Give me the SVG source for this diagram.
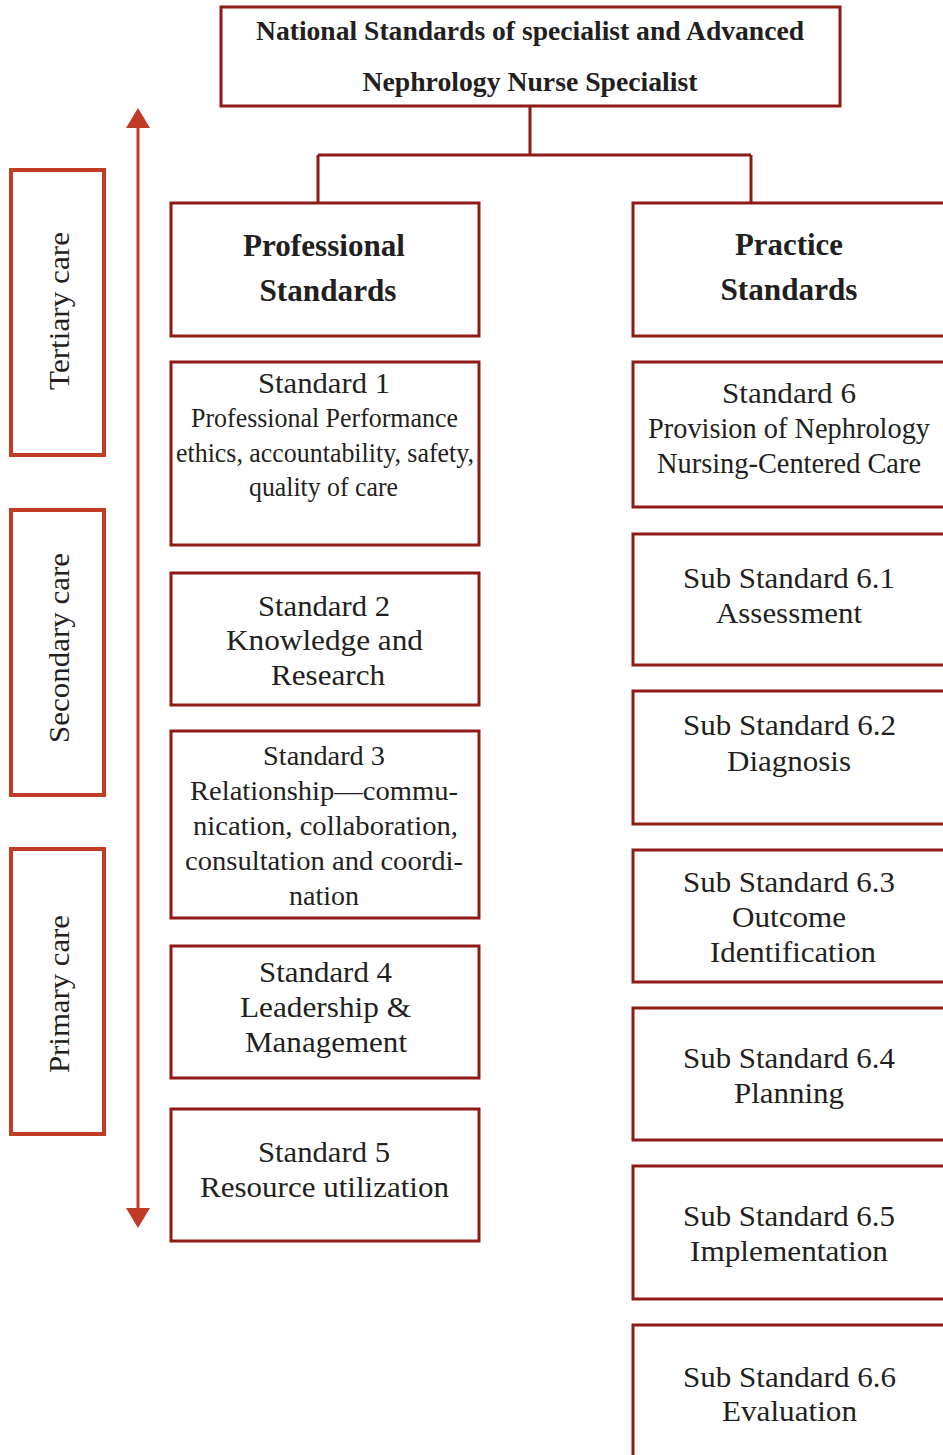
<svg xmlns="http://www.w3.org/2000/svg" width="943" height="1455" viewBox="0 0 943 1455">
<style>
.box{fill:#fff;stroke:#8e1b16;stroke-width:3}
.lvl{fill:#fff;stroke:#c23b24;stroke-width:4}
.conn{fill:none;stroke:#8e1b16;stroke-width:3}
.t{font-family:"Liberation Serif","Times New Roman",serif;font-size:30px;fill:#231f20;text-anchor:middle}
.s{font-size:28px}
.b{font-family:"Liberation Serif","Times New Roman",serif;font-weight:bold;fill:#231f20;text-anchor:middle}
</style>
<rect width="943" height="1455" fill="#fff"/>

<g id="connectors">
<path class="conn" d="M530,106 V155 M318,155 H751 M318,155 V202 M751,155 V202"/>
<line x1="138" y1="124" x2="138" y2="1212" stroke="#c23b24" stroke-width="3"/>
<path d="M138,108 L126,128 L150,128 z" fill="#c23b24"/>
<path d="M138,1228 L126,1208 L150,1208 z" fill="#c23b24"/>
</g>

<g id="levels">
<g id="tertiary"><rect class="lvl" x="11" y="170" width="93" height="285"/>
<text class="t" transform="translate(69,311) rotate(-90)" textLength="158" lengthAdjust="spacingAndGlyphs">Tertiary care</text></g>
<g id="secondary"><rect class="lvl" x="11" y="510" width="93" height="285"/>
<text class="t" transform="translate(69,648) rotate(-90)" textLength="190" lengthAdjust="spacingAndGlyphs">Secondary care</text></g>
<g id="primary"><rect class="lvl" x="11" y="849" width="93" height="285"/>
<text class="t" transform="translate(69,994) rotate(-90)" textLength="158" lengthAdjust="spacingAndGlyphs">Primary care</text></g>
</g>

<g id="root"><rect class="box" x="221" y="7" width="619" height="99"/>
<text class="b" x="530" y="40" font-size="28" textLength="548" lengthAdjust="spacingAndGlyphs">National Standards of specialist and Advanced</text>
<text class="b" x="530" y="91" font-size="28" textLength="335" lengthAdjust="spacingAndGlyphs">Nephrology Nurse Specialist</text></g>

<g id="professional"><rect class="box" x="171" y="203" width="308" height="133"/>
<text class="b" x="324" y="256" font-size="31" textLength="162" lengthAdjust="spacingAndGlyphs">Professional</text>
<text class="b" x="328" y="301" font-size="31" textLength="137" lengthAdjust="spacingAndGlyphs">Standards</text></g>

<g id="practice"><rect class="box" x="633" y="203" width="320" height="133"/>
<text class="b" x="789" y="255" font-size="31" textLength="108" lengthAdjust="spacingAndGlyphs">Practice</text>
<text class="b" x="789" y="300" font-size="31" textLength="137" lengthAdjust="spacingAndGlyphs">Standards</text></g>

<g id="std1"><rect class="box" x="171" y="362" width="308" height="183"/>
<text class="t" x="324" y="393" textLength="132" lengthAdjust="spacingAndGlyphs">Standard 1</text>
<text class="t s" x="324.5" y="427" textLength="267" lengthAdjust="spacingAndGlyphs">Professional Performance</text>
<text class="t s" x="325" y="462" textLength="298" lengthAdjust="spacingAndGlyphs">ethics, accountability, safety,</text>
<text class="t s" x="323.5" y="496" textLength="149" lengthAdjust="spacingAndGlyphs">quality of care</text></g>

<g id="std2"><rect class="box" x="171" y="573" width="308" height="132"/>
<text class="t" x="324" y="616" textLength="132" lengthAdjust="spacingAndGlyphs">Standard 2</text>
<text class="t" x="324.5" y="650" textLength="197" lengthAdjust="spacingAndGlyphs">Knowledge and</text>
<text class="t" x="328" y="685" textLength="114" lengthAdjust="spacingAndGlyphs">Research</text></g>

<g id="std3"><rect class="box" x="171" y="731" width="308" height="187"/>
<text class="t s" x="324" y="765" textLength="122" lengthAdjust="spacingAndGlyphs">Standard 3</text>
<text class="t s" x="324" y="800" textLength="268" lengthAdjust="spacingAndGlyphs">Relationship—commu-</text>
<text class="t s" x="325.5" y="835" textLength="265" lengthAdjust="spacingAndGlyphs">nication, collaboration,</text>
<text class="t s" x="324" y="870" textLength="278" lengthAdjust="spacingAndGlyphs">consultation and coordi-</text>
<text class="t s" x="324" y="905" textLength="70" lengthAdjust="spacingAndGlyphs">nation</text></g>

<g id="std4"><rect class="box" x="171" y="946" width="308" height="132"/>
<text class="t" x="325.5" y="982" textLength="133" lengthAdjust="spacingAndGlyphs">Standard 4</text>
<text class="t" x="325.5" y="1017" textLength="171" lengthAdjust="spacingAndGlyphs">Leadership &amp;</text>
<text class="t" x="326" y="1052" textLength="162" lengthAdjust="spacingAndGlyphs">Management</text></g>

<g id="std5"><rect class="box" x="171" y="1109" width="308" height="132"/>
<text class="t" x="324" y="1162" textLength="132" lengthAdjust="spacingAndGlyphs">Standard 5</text>
<text class="t" x="324.5" y="1197" textLength="249" lengthAdjust="spacingAndGlyphs">Resource utilization</text></g>

<g id="std6"><rect class="box" x="633" y="362" width="320" height="145"/>
<text class="t" x="789" y="403" textLength="134" lengthAdjust="spacingAndGlyphs">Standard 6</text>
<text class="t" x="789" y="438" textLength="282" lengthAdjust="spacingAndGlyphs">Provision of Nephrology</text>
<text class="t" x="789" y="473" textLength="264" lengthAdjust="spacingAndGlyphs">Nursing-Centered Care</text></g>

<g id="sub61"><rect class="box" x="633" y="534" width="320" height="131"/>
<text class="t" x="789" y="588" textLength="212" lengthAdjust="spacingAndGlyphs">Sub Standard 6.1</text>
<text class="t" x="789" y="623" textLength="146" lengthAdjust="spacingAndGlyphs">Assessment</text></g>

<g id="sub62"><rect class="box" x="633" y="691" width="320" height="133"/>
<text class="t" x="789.5" y="735" textLength="213" lengthAdjust="spacingAndGlyphs">Sub Standard 6.2</text>
<text class="t" x="789" y="771" textLength="124" lengthAdjust="spacingAndGlyphs">Diagnosis</text></g>

<g id="sub63"><rect class="box" x="633" y="850" width="320" height="132"/>
<text class="t" x="789" y="892" textLength="212" lengthAdjust="spacingAndGlyphs">Sub Standard 6.3</text>
<text class="t" x="789" y="927" textLength="114" lengthAdjust="spacingAndGlyphs">Outcome</text>
<text class="t" x="793" y="962" textLength="166" lengthAdjust="spacingAndGlyphs">Identification</text></g>

<g id="sub64"><rect class="box" x="633" y="1008" width="320" height="132"/>
<text class="t" x="789" y="1068" textLength="212" lengthAdjust="spacingAndGlyphs">Sub Standard 6.4</text>
<text class="t" x="789" y="1103" textLength="110" lengthAdjust="spacingAndGlyphs">Planning</text></g>

<g id="sub65"><rect class="box" x="633" y="1166" width="320" height="133"/>
<text class="t" x="789" y="1226" textLength="212" lengthAdjust="spacingAndGlyphs">Sub Standard 6.5</text>
<text class="t" x="789" y="1261" textLength="198" lengthAdjust="spacingAndGlyphs">Implementation</text></g>

<g id="sub66"><rect class="box" x="633" y="1325" width="320" height="140"/>
<text class="t" x="789.5" y="1387" textLength="213" lengthAdjust="spacingAndGlyphs">Sub Standard 6.6</text>
<text class="t" x="789.5" y="1421" textLength="135" lengthAdjust="spacingAndGlyphs">Evaluation</text></g>
</svg>
